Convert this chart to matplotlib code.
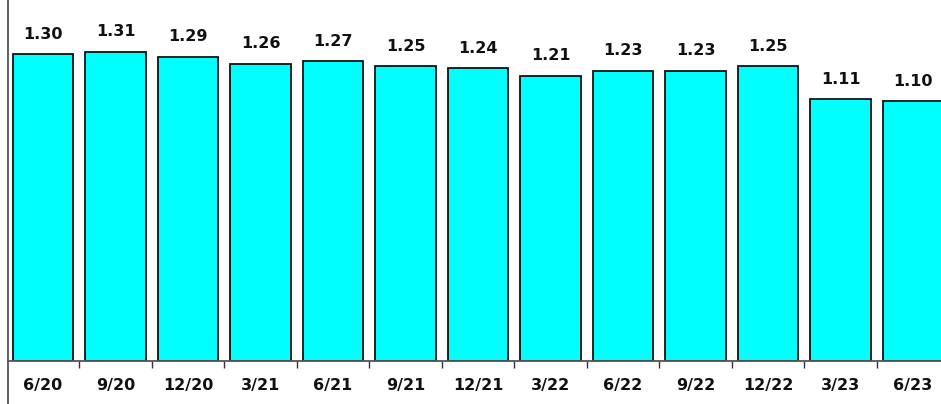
import matplotlib
matplotlib.use("Agg")
import matplotlib.pyplot as plt
from matplotlib.lines import Line2D
import numpy as np

quarters = ["6/20", "9/20", "12/20", "3/21", "6/21", "9/21", "12/21",
            "3/22", "6/22", "9/22", "12/22", "3/23", "6/23"]
ratios = [1.30, 1.31, 1.29, 1.26, 1.27, 1.25, 1.24,
          1.21, 1.23, 1.23, 1.25, 1.11, 1.10]

fig = plt.figure(figsize=(9.41, 4.04), dpi=100)
ax = fig.add_axes([8 / 941, 1 - 361 / 404, 1 - 8 / 941, 361 / 404])

x = np.arange(len(quarters))
bars = ax.bar(x, ratios, width=0.83, color="#00FFFF", edgecolor="#111111", linewidth=1.3)

for b, v in zip(bars, ratios):
    ax.annotate(f"{v:.2f}", (b.get_x() + b.get_width() / 2, v),
                xytext=(0, 9), textcoords="offset points",
                ha="center", va="bottom", fontsize=11.5, fontweight="bold",
                color="#111111")

# last bar runs past the right edge
ax.set_xlim(-0.483, len(quarters) - 1 + 0.386)
ax.set_ylim(0, 1.53)

ax.set_xticks(x)
ax.set_xticklabels(quarters, fontsize=11.5, fontweight="bold", color="#111111")
ax.tick_params(axis="x", which="major", length=0, pad=12)
ax.set_xticks(x[:-1] + 0.5, minor=True)
ax.tick_params(axis="x", which="minor", length=5, width=1, color="#333333")
ax.set_yticks([])

for side in ["top", "right", "left"]:
    ax.spines[side].set_visible(False)
ax.spines["bottom"].set_color("#555555")
ax.spines["bottom"].set_linewidth(1.3)

# left axis line runs the full height of the figure
fig.add_artist(Line2D([8 / 941, 8 / 941], [0, 1], transform=fig.transFigure,
                      color="#555555", linewidth=1.3))

fig.savefig("out.png", dpi=100)
